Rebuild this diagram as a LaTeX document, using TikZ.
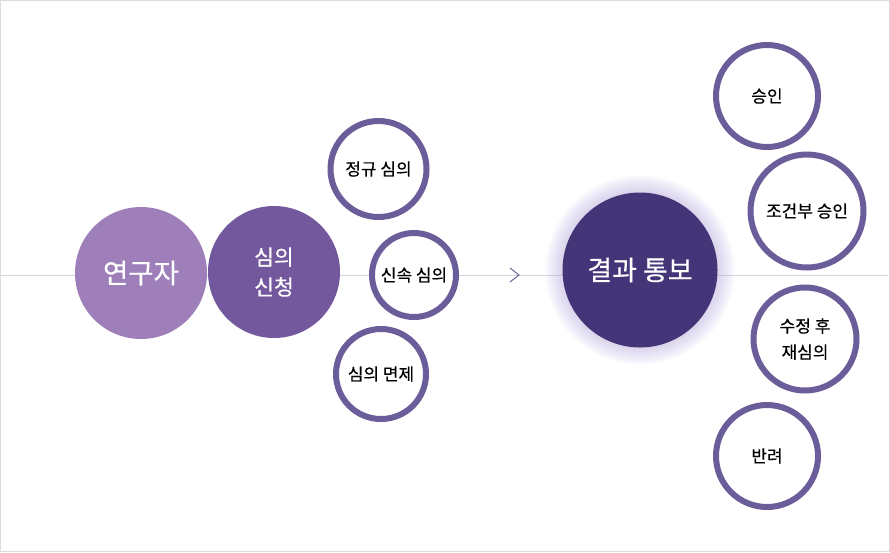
\documentclass[tikz,border=0pt]{standalone}
\usepackage{fontspec}
\newfontfamily\kr[FakeBold=0.35]{Noto Sans CJK KR}
\definecolor{lightpurple}{HTML}{9B7BB8}
\definecolor{midpurple}{HTML}{74589E}
\definecolor{darkpurple}{HTML}{433577}
\definecolor{ringcol}{HTML}{6A5D9A}
\definecolor{glowcol}{HTML}{C6BAE6}
\definecolor{axiscol}{HTML}{D6D2E2}
\definecolor{bordercol}{HTML}{DCDCDC}
\begin{document}
\begin{tikzpicture}[x=1pt,y=-1pt,
  filled/.style={circle,inner sep=0pt,text=white,font=\kr,align=center},
  ring/.style={circle,inner sep=0pt,draw=ringcol,line width=6pt,fill=white,font=\kr\fontsize{17}{26}\selectfont,align=center}]
\fill[white] (0,0) rectangle (890,552);
\useasboundingbox (0,0) rectangle (890,552);
\draw[bordercol,line width=1.2pt] (0.6,0.6) rectangle (889.4,551.4);
% axis
\coordinate (axL) at (1,275);
\coordinate (axR) at (888,275);
\draw[axiscol,line width=1pt] (axL) -- (axR);
% glow
\foreach \k in {1,...,18}{
  \fill[glowcol,opacity=0.04] (640,270) circle[radius=77+\k];
}
% left filled circles
\node[filled,fill=lightpurple,fill opacity=0.97,text opacity=1,minimum size=132pt,font=\kr\fontsize{27.5}{32}\selectfont] (res) at (141,273) {연구자};
\node[filled,fill=midpurple,minimum size=132pt,font=\kr\fontsize{21.5}{30}\selectfont] (app) at (274,272) {심의\\신청};
% review types
\node[ring,minimum size=96pt] (reg) at (378.5,169) {정규 심의};
\node[ring,minimum size=84pt] (exp) at (414,275) {신속 심의};
\node[ring,minimum size=90pt] (exm) at (381,374) {심의 면제};
% chevron
\coordinate (chT) at (510,268);
\coordinate (chM) at (519,275);
\coordinate (chB) at (510,282);
\draw[ringcol!70!gray,line width=1pt] (chT) -- (chM) -- (chB);
% result
\node[filled,fill=darkpurple,minimum size=155pt,font=\kr\fontsize{27}{32}\selectfont] (out) at (640,270) {결과 통보};
% outcomes
\node[ring,minimum size=102pt] (ok) at (767,96) {승인};
\node[ring,minimum size=113pt] (cond) at (807,211) {조건부 승인};
\node[ring,minimum size=103pt] (rev) at (805,339) {수정 후\\재심의};
\node[ring,minimum size=102pt] (rej) at (767,456) {반려};
\end{tikzpicture}
\end{document}
